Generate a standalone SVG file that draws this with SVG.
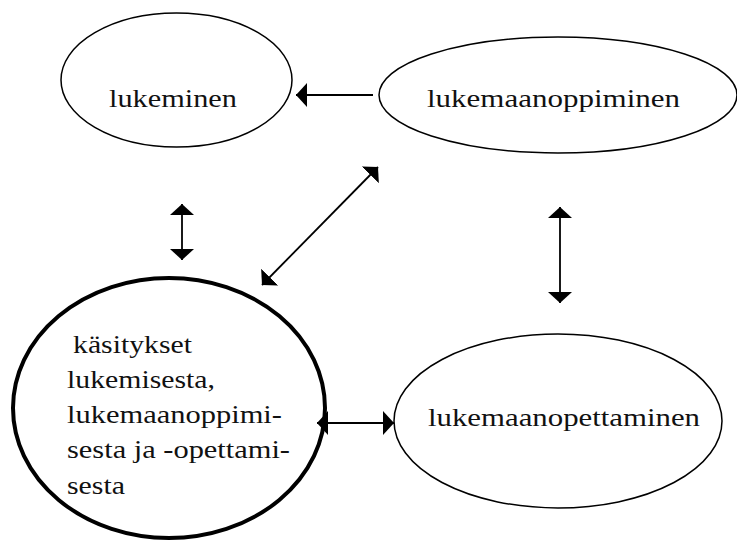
<svg xmlns="http://www.w3.org/2000/svg" width="737" height="545" viewBox="0 0 737 545">
  <defs>
    <marker id="head" viewBox="0 0 11 24" refX="11" refY="12" markerWidth="11" markerHeight="24" markerUnits="userSpaceOnUse" orient="auto-start-reverse">
      <path d="M0,0 L11,12 L0,24 Z" fill="#000"/>
    </marker>
  </defs>
  <style>
    .node { fill: #fff; stroke: #000; stroke-width: 1.5; }
    .core { fill: #fff; stroke: #000; stroke-width: 4; }
    .label { font-size: 26px; fill: #111; }
    .link { stroke: #000; stroke-width: 1.8; fill: none; }
  </style>
  <rect width="737" height="545" fill="#fff"/>

  <g font-family="'Liberation Serif', 'Times New Roman', 'DejaVu Serif', serif">
  <g id="lukeminen">
    <ellipse class="node" cx="176.5" cy="80" rx="115.5" ry="67"/>
    <text class="label" x="109" y="107" textLength="128" lengthAdjust="spacingAndGlyphs">lukeminen</text>
  </g>

  <g id="lukemaanoppiminen">
    <ellipse class="node" cx="558" cy="95" rx="179" ry="58"/>
    <text class="label" x="427" y="107" textLength="253" lengthAdjust="spacingAndGlyphs">lukemaanoppiminen</text>
  </g>

  <g id="kasitykset">
    <ellipse class="core" cx="169" cy="408" rx="156" ry="130"/>
    <text class="label" x="73" y="353" textLength="119" lengthAdjust="spacingAndGlyphs">käsitykset</text>
    <text class="label" x="67" y="388" textLength="148" lengthAdjust="spacingAndGlyphs">lukemisesta,</text>
    <text class="label" x="67" y="423" textLength="215" lengthAdjust="spacingAndGlyphs">lukemaanoppimi-</text>
    <text class="label" x="67" y="458" textLength="223" lengthAdjust="spacingAndGlyphs">sesta ja -opettami-</text>
    <text class="label" x="67" y="494" textLength="58" lengthAdjust="spacingAndGlyphs">sesta</text>
  </g>

  <g id="lukemaanopettaminen">
    <ellipse class="node" cx="558" cy="421" rx="164" ry="87"/>
    <text class="label" x="428" y="426" textLength="272" lengthAdjust="spacingAndGlyphs">lukemaanopettaminen</text>
  </g>
  </g>

  <g id="connectors">
    <line class="link" x1="373" y1="95" x2="296" y2="95" marker-end="url(#head)"/>
    <line class="link" x1="378" y1="167" x2="262" y2="285" marker-start="url(#head)" marker-end="url(#head)"/>
    <line class="link" x1="182" y1="204" x2="182" y2="260" marker-start="url(#head)" marker-end="url(#head)"/>
    <line class="link" x1="560" y1="207" x2="560" y2="303" marker-start="url(#head)" marker-end="url(#head)"/>
    <line class="link" x1="317" y1="423" x2="394" y2="423" marker-start="url(#head)" marker-end="url(#head)"/>
  </g>
</svg>
